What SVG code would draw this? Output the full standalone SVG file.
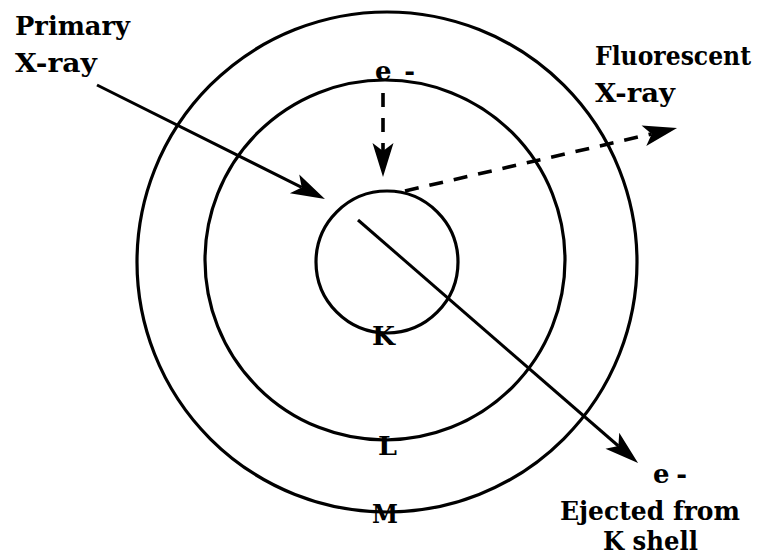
<svg xmlns="http://www.w3.org/2000/svg" width="762" height="557" viewBox="0 0 762 557">
<style>
.shell{fill:none;stroke:#000;stroke-width:3.2}
.ray{fill:none;stroke:#000;stroke-width:3}
.dash{stroke-dasharray:14 11;stroke-width:3.6}
.t{font-family:'DejaVu Serif','Liberation Serif',serif;font-weight:700;font-size:26px;fill:#000}
</style>
<defs>
<marker id="ah" markerUnits="userSpaceOnUse" markerWidth="40" markerHeight="26" refX="8" refY="12" orient="auto" overflow="visible">
<path d="M34,12 L0,1.5 L8,12 L0,22.5 Z" fill="#000"/>
</marker>
</defs>
<rect width="762" height="557" fill="#fff"/>
<g id="shell-M"><circle class="shell" cx="387" cy="262" r="250"/><text class="t" x="372" y="523" textLength="26" lengthAdjust="spacingAndGlyphs">M</text></g>
<g id="shell-L"><circle class="shell" cx="385" cy="260" r="180"/><text class="t" x="378" y="455" textLength="19" lengthAdjust="spacingAndGlyphs">L</text></g>
<g id="shell-K"><circle class="shell" cx="387" cy="262" r="71"/><text class="t" x="372" y="345" textLength="23" lengthAdjust="spacingAndGlyphs">K</text></g>
<g id="connectors">
<line class="ray" x1="97" y1="85" x2="301.7" y2="187.4" marker-end="url(#ah)"/>
<line class="ray dash" x1="383" y1="93" x2="383" y2="151" marker-end="url(#ah)"/>
<line class="ray dash" x1="405" y1="191" x2="651.7" y2="133.9" marker-end="url(#ah)"/>
<line class="ray" x1="358" y1="220" x2="618.4" y2="446" marker-end="url(#ah)"/>
</g>
<g id="label-primary"><text class="t" x="15" y="35" textLength="115" lengthAdjust="spacingAndGlyphs">Primary</text><text class="t" x="15" y="72" textLength="82" lengthAdjust="spacingAndGlyphs">X-ray</text></g>
<g id="label-fluorescent"><text class="t" x="595" y="65" textLength="156" lengthAdjust="spacingAndGlyphs">Fluorescent</text><text class="t" x="595" y="102" textLength="80" lengthAdjust="spacingAndGlyphs">X-ray</text></g>
<g id="label-e-top"><text class="t" x="375" y="80" textLength="40" lengthAdjust="spacing">e -</text></g>
<g id="label-ejected"><text class="t" x="653" y="483" textLength="34" lengthAdjust="spacing">e -</text><text class="t" x="560" y="520" textLength="180" lengthAdjust="spacingAndGlyphs">Ejected from</text><text class="t" x="603" y="550" textLength="95" lengthAdjust="spacingAndGlyphs">K shell</text></g>
</svg>
